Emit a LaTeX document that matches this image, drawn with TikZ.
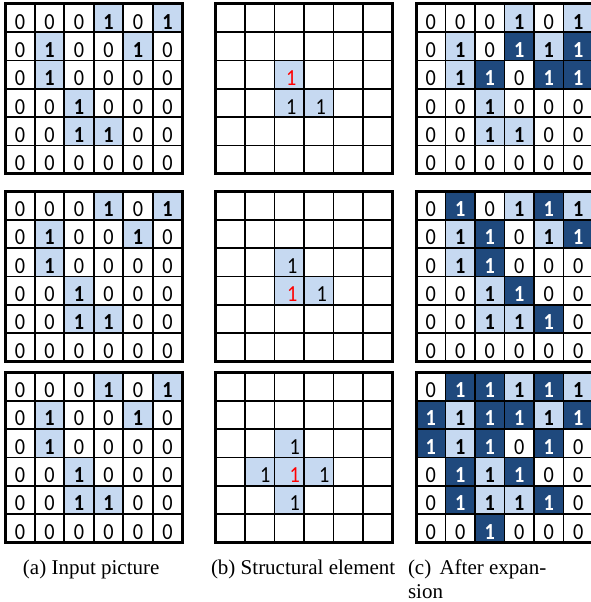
\documentclass[tikz,border=0pt]{standalone}
\usepackage{fontspec}
\usepackage{graphicx}
\setmainfont{Liberation Serif}
\newfontfamily\digfont{Carlito}
\definecolor{lb}{HTML}{C6D9F1}
\definecolor{db}{HTML}{1F497D}
\newcommand\digsize{\fontsize{23}{23}\selectfont}
\newcommand\nd[1]{\scalebox{0.88}[1]{#1}}
\expandafter\def\csname tx0\endcsname{\nd{0}}
\expandafter\def\csname txe\endcsname{}
\expandafter\def\csname txa\endcsname{\nd{1}}
\expandafter\def\csname txd\endcsname{\nd{1}}
\expandafter\def\csname txr\endcsname{\hspace*{\bs}\nd{1}}
\expandafter\def\csname txb\endcsname{\hspace*{\bs}\nd{1}}
\def\bs{4pt}
\tikzset{
  cellbase/.style={draw=black, line width=1.8pt, minimum width=29.5pt, minimum height=28.3pt,
    inner sep=0pt, outer sep=0pt, anchor=center, text height=22pt, text depth=0pt,
    font=\digfont\digsize},
  cell0/.style={cellbase, fill=white},
  celle/.style={cellbase, fill=white},
  cella/.style={cellbase, fill=lb, font=\digfont\bfseries\digsize},
  celld/.style={cellbase, fill=db, text=white, font=\digfont\bfseries\digsize},
  cellr/.style={cellbase, fill=lb, text=red},
  cellb/.style={cellbase, fill=lb},
  border/.style={draw=black, line width=3pt},
  captext/.style={inner sep=0pt, outer sep=0pt, anchor=base west, font=\fontsize{21}{24}\selectfont}
}
\newcommand\mygrid[4]{%
  \foreach \rw [count=\i] in {#4} {
    \foreach \cc [count=\j] in \rw {
      \node[cell\cc] (#1-\i-\j) at ({#2+(\j-0.5)*29.5},{#3+(\i-0.5)*28.3}) {\csname tx\cc\endcsname};
    }
  }
  \draw[border] (#1-1-1.north west) rectangle (#1-6-6.south east);
}
\begin{document}
\begin{tikzpicture}[x=1pt,y=-1pt]
\useasboundingbox (0,0) rectangle (591,602);
% column a
\mygrid{aA}{5.3}{4}{{0,0,0,a,0,a},{0,a,0,0,a,0},{0,a,0,0,0,0},{0,0,a,0,0,0},{0,0,a,a,0,0},{0,0,0,0,0,0}}
\mygrid{aB}{5.3}{191.5}{{0,0,0,a,0,a},{0,a,0,0,a,0},{0,a,0,0,0,0},{0,0,a,0,0,0},{0,0,a,a,0,0},{0,0,0,0,0,0}}
\mygrid{aC}{5.3}{372.5}{{0,0,0,a,0,a},{0,a,0,0,a,0},{0,a,0,0,0,0},{0,0,a,0,0,0},{0,0,a,a,0,0},{0,0,0,0,0,0}}
% column b
\def\bs{4pt}
\mygrid{bA}{215.5}{4}{{e,e,e,e,e,e},{e,e,e,e,e,e},{e,e,r,e,e,e},{e,e,b,b,e,e},{e,e,e,e,e,e},{e,e,e,e,e,e}}
\def\bs{6pt}
\mygrid{bB}{215.5}{191.5}{{e,e,e,e,e,e},{e,e,e,e,e,e},{e,e,b,e,e,e},{e,e,r,b,e,e},{e,e,e,e,e,e},{e,e,e,e,e,e}}
\def\bs{11pt}
\mygrid{bC}{215.5}{372.5}{{e,e,e,e,e,e},{e,e,e,e,e,e},{e,e,b,e,e,e},{e,b,r,b,e,e},{e,e,b,e,e,e},{e,e,e,e,e,e}}
% column c
\mygrid{cA}{416}{4}{{0,0,0,a,0,a},{0,a,0,d,a,d},{0,a,d,0,d,d},{0,0,a,0,0,0},{0,0,a,a,0,0},{0,0,0,0,0,0}}
\mygrid{cB}{416}{191.5}{{0,d,0,a,d,a},{0,a,d,0,a,d},{0,a,d,0,0,0},{0,0,a,d,0,0},{0,0,a,a,d,0},{0,0,0,0,0,0}}
\mygrid{cC}{416}{372.5}{{0,d,d,a,d,a},{d,a,d,d,a,d},{d,a,d,0,d,0},{0,d,a,d,0,0},{0,d,a,a,d,0},{0,0,d,0,0,0}}
% captions
\node[captext] (capa) at (23,574) {(a) Input picture};
\node[captext] (capb) at (211,574) {(b) Structural element};
\node[captext] (capc) at (408,574) {(c)\hspace{3pt} After expan-};
\node[captext] (capd) at (408,598) {sion};
\end{tikzpicture}
\end{document}
